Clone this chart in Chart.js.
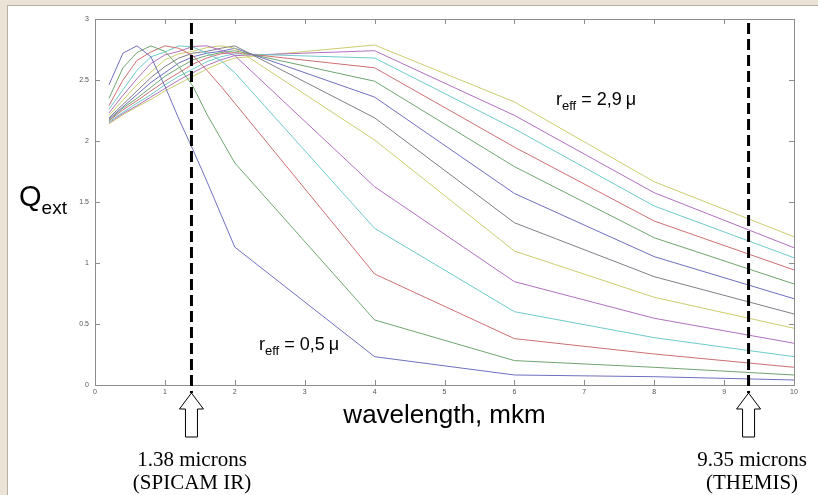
<!DOCTYPE html>
<html>
<head>
<meta charset="utf-8">
<script src="https://cdn.jsdelivr.net/npm/chart.js@4.4.1/dist/chart.umd.min.js"></script>
<style>
  html, body { margin: 0; padding: 0; }
  body { width: 818px; height: 495px; background: #ebe4d6; position: relative; overflow: hidden;
         font-family: "Liberation Sans", Arial, sans-serif; }
  #panel { position: absolute; left: 7px; top: 5px; right: 0; bottom: 0; background: #fff;
           border-left: 1px solid #b9b0a0; border-top: 1px solid #b9b0a0; }
  #chart { position: absolute; left: 0; top: 0; }
  .lbl { position: absolute; white-space: nowrap; color: #000; line-height: 1; }
  .sub { font-size: 13px; position: relative; top: 5px; }
  .mu { margin-left: 4px; }
  .serif { font-family: "Liberation Serif", "Times New Roman", serif; font-size: 21px;
           line-height: 23px; text-align: center; transform: translateX(-50%); }
</style>
</head>
<body>
<div id="panel"></div>
<canvas id="chart" width="818" height="495"></canvas>

<div class="lbl" style="left:19px;top:180px;font-size:29px;line-height:32px;">Q<span style="font-size:19px;position:relative;top:8px;">ext</span></div>
<div class="lbl" style="left:259px;top:335px;font-size:18px;">r<span class="sub">eff</span> = 0,5<span class="mu">&#956;</span></div>
<div class="lbl" style="left:556px;top:90px;font-size:18px;">r<span class="sub">eff</span> = 2,9<span class="mu">&#956;</span></div>
<div class="lbl serif" style="left:192px;top:448px;">1.38 microns<br>(SPICAM IR)</div>
<div class="lbl serif" style="left:752px;top:448px;">9.35 microns<br>(THEMIS)</div>

<script>
// wavelength grid (microns)
const wavelengths = [0.2, 0.4, 0.6, 0.8, 1.0, 1.2, 1.4, 1.6, 1.8, 2.0, 4, 6, 8, 10];

// Q_ext for effective radius 0.5 ... 2.9 microns
const r05 = [2.46, 2.72, 2.78, 2.69, 2.45, 2.18, 1.93, 1.67, 1.40, 1.13, 0.232, 0.082, 0.068, 0.041];
const r07 = [2.35, 2.60, 2.725, 2.78, 2.735, 2.61, 2.45, 2.22, 2.02, 1.82, 0.533, 0.20, 0.145, 0.082];
const r09 = [2.29, 2.50, 2.66, 2.73, 2.78, 2.76, 2.70, 2.58, 2.45, 2.31, 0.91, 0.38, 0.254, 0.145];
const r11 = [2.26, 2.42, 2.58, 2.69, 2.73, 2.78, 2.77, 2.72, 2.66, 2.56, 1.284, 0.601, 0.388, 0.232];
const r13 = [2.23, 2.375, 2.51, 2.635, 2.705, 2.735, 2.775, 2.78, 2.745, 2.70, 1.625, 0.847, 0.547, 0.342];
const r15 = [2.21, 2.335, 2.46, 2.565, 2.665, 2.715, 2.735, 2.765, 2.78, 2.76, 2.008, 1.098, 0.719, 0.465];
const r17 = [2.19, 2.30, 2.41, 2.52, 2.61, 2.68, 2.72, 2.735, 2.76, 2.78, 2.19, 1.33, 0.888, 0.582];
const r19 = [2.18, 2.28, 2.38, 2.48, 2.56, 2.64, 2.69, 2.72, 2.735, 2.76, 2.36, 1.57, 1.052, 0.707];
const r21 = [2.17, 2.27, 2.35, 2.44, 2.53, 2.60, 2.665, 2.70, 2.725, 2.74, 2.49, 1.79, 1.207, 0.828];
const r23 = [2.165, 2.255, 2.33, 2.41, 2.49, 2.56, 2.63, 2.68, 2.715, 2.725, 2.60, 1.95, 1.344, 0.943];
const r25 = [2.155, 2.235, 2.31, 2.38, 2.46, 2.53, 2.59, 2.65, 2.69, 2.715, 2.68, 2.10, 1.467, 1.043];
const r27 = [2.15, 2.225, 2.29, 2.36, 2.43, 2.50, 2.56, 2.62, 2.665, 2.70, 2.74, 2.21, 1.576, 1.125];
const r29 = [2.14, 2.215, 2.28, 2.34, 2.41, 2.47, 2.53, 2.59, 2.64, 2.68, 2.787, 2.32, 1.666, 1.215];

const series = [r05, r07, r09, r11, r13, r15, r17, r19, r21, r23, r25, r27, r29];
const radii = ['0.5', '0.7', '0.9', '1.1', '1.3', '1.5', '1.7', '1.9', '2.1', '2.3', '2.5', '2.7', '2.9'];

const xTicks = [0, 1, 2, 3, 4, 5, 6, 7, 8, 9, 10];
const yTicks = [0, 0.5, 1, 1.5, 2, 2.5, 3];
const markers = [1.38, 9.35];

// old matlab colour order, washed out like the scan
const palette = ['#6f6fbf', '#6fa56f', '#cc6f74', '#6fcaca', '#b26fc0', '#cccc70', '#7f7f88'];

const frame = {
  id: 'frame',
  afterDatasetsDraw(chart) {
    const { ctx, chartArea: a, scales: { x, y } } = chart;
    ctx.save();
    ctx.strokeStyle = '#8c8c8c';
    ctx.lineWidth = 1;
    ctx.strokeRect(Math.round(a.left) + 0.5, Math.round(a.top) + 0.5,
                   Math.round(a.right - a.left), Math.round(a.bottom - a.top));
    ctx.beginPath();
    xTicks.forEach(v => {
      const px = Math.round(x.getPixelForValue(v)) + 0.5;
      ctx.moveTo(px, a.bottom); ctx.lineTo(px, a.bottom - 5);
      ctx.moveTo(px, a.top); ctx.lineTo(px, a.top + 5);
    });
    yTicks.forEach(v => {
      const py = Math.round(y.getPixelForValue(v)) + 0.5;
      ctx.moveTo(a.left, py); ctx.lineTo(a.left + 5, py);
      ctx.moveTo(a.right, py); ctx.lineTo(a.right - 5, py);
    });
    ctx.stroke();

    // dashed instrument markers
    ctx.strokeStyle = '#000';
    ctx.lineWidth = 3;
    ctx.setLineDash([11, 5]);
    markers.forEach(m => {
      const px = x.getPixelForValue(m);
      ctx.beginPath();
      ctx.moveTo(px, a.top + 4);
      ctx.lineTo(px, a.bottom + 8);
      ctx.stroke();
    });
    ctx.setLineDash([]);

    // hollow arrows under the markers
    ctx.lineWidth = 1;
    ctx.fillStyle = '#fff';
    markers.forEach(m => {
      const cx = x.getPixelForValue(m);
      const top = a.bottom + 8;
      ctx.beginPath();
      ctx.moveTo(cx, top);
      ctx.lineTo(cx + 12, top + 16);
      ctx.lineTo(cx + 6, top + 16);
      ctx.lineTo(cx + 6, top + 44);
      ctx.lineTo(cx - 6, top + 44);
      ctx.lineTo(cx - 6, top + 16);
      ctx.lineTo(cx - 12, top + 16);
      ctx.closePath();
      ctx.fill();
      ctx.stroke();
    });
    ctx.restore();
  }
};

new Chart(document.getElementById('chart'), {
  type: 'line',
  data: {
    datasets: series.map((s, i) => ({
      label: 'r_eff = ' + radii[i],
      data: s.map((q, k) => ({ x: wavelengths[k], y: q })),
      borderColor: palette[i % palette.length],
      borderWidth: 1,
      pointRadius: 0,
      tension: 0,
      fill: false
    }))
  },
  options: {
    responsive: false,
    animation: false,
    layout: { padding: { left: 0, right: 24, top: 19, bottom: 64 } },
    plugins: {
      legend: { display: false },
      tooltip: { enabled: false }
    },
    scales: {
      x: {
        type: 'linear',
        min: 0,
        max: 10,
        afterFit(scale) { scale.height = 46; },
        grid: { display: false, drawTicks: false },
        border: { display: false },
        ticks: {
          stepSize: 1,
          padding: 3,
          color: '#555',
          font: { family: 'Liberation Sans', size: 7 },
          callback: v => String(v)
        },
        title: {
          display: true,
          text: 'wavelength, mkm',
          color: '#000',
          padding: 0,
          font: { family: 'Liberation Sans', size: 26 }
        }
      },
      y: {
        min: 0,
        max: 3,
        afterFit(scale) { scale.width = 95; },
        grid: { display: false, drawTicks: false },
        border: { display: false },
        ticks: {
          stepSize: 0.5,
          padding: 6,
          color: '#555',
          font: { family: 'Liberation Sans', size: 7 },
          callback: v => String(v)
        }
      }
    }
  },
  plugins: [frame]
});
</script>
</body>
</html>
